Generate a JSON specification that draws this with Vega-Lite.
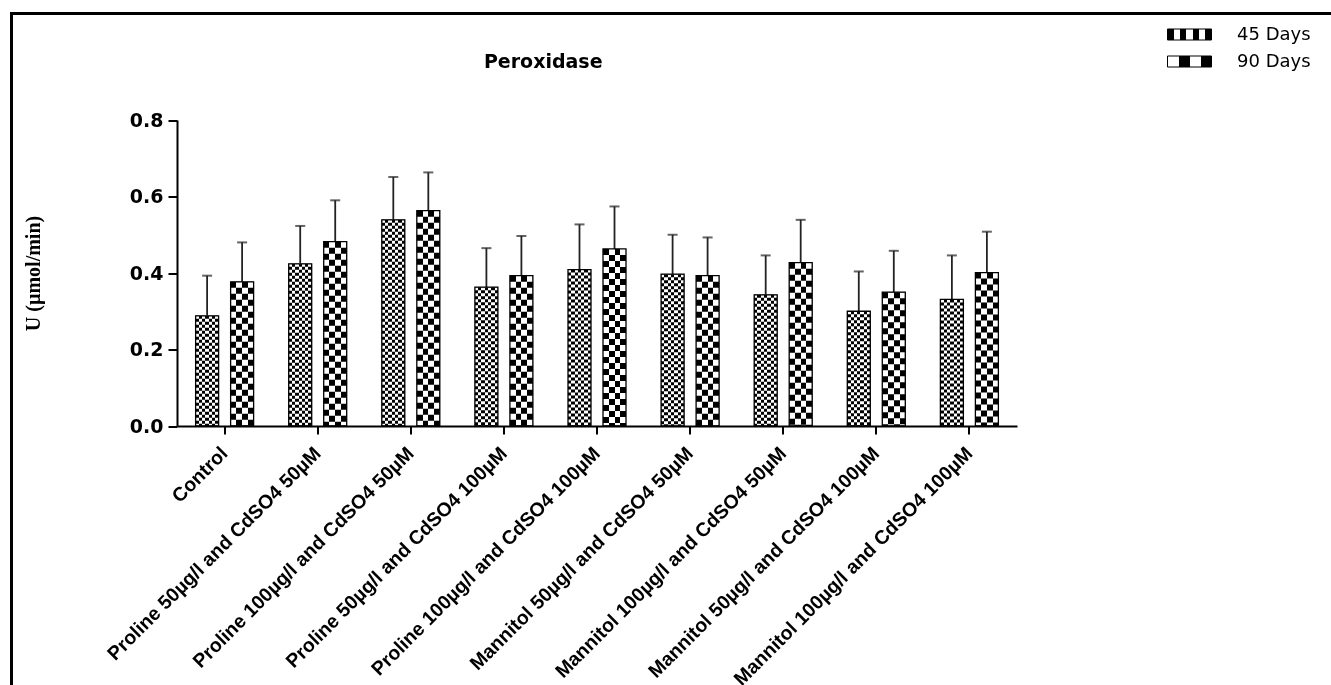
{
  "$schema": "https://vega.github.io/schema/vega-lite/v6.json",
  "width": 1325.5,
  "height": 677.5,
  "autosize": {"type": "none"},
  "padding": {"left": 11.5, "top": 13.5, "right": -6, "bottom": -6},
  "background": "white",
  "title": {
    "text": "Peroxidase",
    "font": "DejaVu Sans",
    "fontSize": 19,
    "fontWeight": "bold",
    "color": "black",
    "anchor": "middle",
    "baseline": "middle",
    "offset": 0,
    "dx": -131,
    "dy": 67.5
  },
  "config": {"view": {"stroke": "black", "strokeWidth": 3}},
  "data": {
    "values": [
      {"treatment": "Control", "period": "45 Days", "mean": 0.288, "sem": 0.105},
      {"treatment": "Control", "period": "90 Days", "mean": 0.377, "sem": 0.103},
      {"treatment": "Proline 50µg/l and CdSO4 50µM", "period": "45 Days", "mean": 0.424, "sem": 0.099},
      {"treatment": "Proline 50µg/l and CdSO4 50µM", "period": "90 Days", "mean": 0.482, "sem": 0.108},
      {"treatment": "Proline 100µg/l and CdSO4 50µM", "period": "45 Days", "mean": 0.539, "sem": 0.112},
      {"treatment": "Proline 100µg/l and CdSO4 50µM", "period": "90 Days", "mean": 0.563, "sem": 0.100},
      {"treatment": "Proline 50µg/l and CdSO4 100µM", "period": "45 Days", "mean": 0.363, "sem": 0.102},
      {"treatment": "Proline 50µg/l and CdSO4 100µM", "period": "90 Days", "mean": 0.393, "sem": 0.104},
      {"treatment": "Proline 100µg/l and CdSO4 100µM", "period": "45 Days", "mean": 0.409, "sem": 0.118},
      {"treatment": "Proline 100µg/l and CdSO4 100µM", "period": "90 Days", "mean": 0.463, "sem": 0.111},
      {"treatment": "Mannitol 50µg/l and CdSO4 50µM", "period": "45 Days", "mean": 0.397, "sem": 0.103},
      {"treatment": "Mannitol 50µg/l and CdSO4 50µM", "period": "90 Days", "mean": 0.393, "sem": 0.100},
      {"treatment": "Mannitol 100µg/l and CdSO4 50µM", "period": "45 Days", "mean": 0.343, "sem": 0.103},
      {"treatment": "Mannitol 100µg/l and CdSO4 50µM", "period": "90 Days", "mean": 0.427, "sem": 0.112},
      {"treatment": "Mannitol 50µg/l and CdSO4 100µM", "period": "45 Days", "mean": 0.300, "sem": 0.104},
      {"treatment": "Mannitol 50µg/l and CdSO4 100µM", "period": "90 Days", "mean": 0.350, "sem": 0.108},
      {"treatment": "Mannitol 100µg/l and CdSO4 100µM", "period": "45 Days", "mean": 0.331, "sem": 0.115},
      {"treatment": "Mannitol 100µg/l and CdSO4 100µM", "period": "90 Days", "mean": 0.401, "sem": 0.107}
    ]
  },
  "encoding": {
    "x": {
      "field": "treatment",
      "type": "nominal",
      "sort": null,
      "scale": {"range": [165.5, 1005.5], "paddingInner": 0.377, "paddingOuter": 0.2},
      "axis": {
        "title": null,
        "offset": -265,
        "zindex": 1,
        "domainColor": "black",
        "domainWidth": 2,
        "tickColor": "black",
        "tickWidth": 2,
        "tickSize": 8,
        "labelAngle": -45,
        "labelAlign": "right",
        "labelBaseline": "middle",
        "labelPadding": 16,
        "labelLimit": 1000,
        "labelOverlap": false,
        "labelFont": "Liberation Sans",
        "labelFontSize": 19.5,
        "labelFontWeight": "bold",
        "labelColor": "black"
      }
    },
    "xOffset": {
      "field": "period",
      "type": "nominal",
      "sort": ["45 Days", "90 Days"],
      "scale": {"paddingInner": 0.343, "paddingOuter": 0}
    }
  },
  "layer": [
    {
      "mark": {
        "type": "errorbar",
        "ticks": {"size": 10, "thickness": 2, "color": "#222222"},
        "rule": {"strokeWidth": 1.8, "color": "#222222"}
      },
      "encoding": {
        "y": {"field": "mean", "type": "quantitative", "title": "U (µmol/min)"},
        "yError": {"field": "sem"}
      }
    },
    {
      "mark": {"type": "bar"},
      "encoding": {
        "y": {
          "field": "mean",
          "type": "quantitative",
          "title": "U (µmol/min)",
          "scale": {"domain": [0, 0.8], "range": [412.5, 106.5], "nice": false},
          "axis": {
            "title": "U (µmol/min)",
            "titleFont": "Liberation Serif",
            "titleFontSize": 20,
            "titleFontWeight": "bold",
            "titleColor": "black",
            "titleAngle": -90,
            "titleAlign": "center",
            "titleBaseline": "middle",
            "titleX": -144,
            "titleY": 259.5,
            "values": [0, 0.2, 0.4, 0.6, 0.8],
            "format": ".1f",
            "grid": false,
            "offset": -165.5,
            "zindex": 1,
            "domainColor": "black",
            "domainWidth": 2,
            "tickColor": "black",
            "tickWidth": 2,
            "tickSize": 9,
            "labelPadding": 5,
            "labelFont": "DejaVu Sans",
            "labelFontSize": 19,
            "labelFontWeight": "bold",
            "labelColor": "black"
          }
        },
        "fill": {
          "field": "period",
          "type": "nominal",
          "scale": {
            "domain": ["45 Days", "90 Days"],
            "range": [
              {"expr": "{gradient: 'linear', x1: 0, y1: 0, x2: 1, y2: 0, stops: [{offset: 0, color: '#000'}, {offset: 0.1429, color: '#000'}, {offset: 0.1429, color: '#fff'}, {offset: 0.2857, color: '#fff'}, {offset: 0.2857, color: '#000'}, {offset: 0.4286, color: '#000'}, {offset: 0.4286, color: '#fff'}, {offset: 0.5714, color: '#fff'}, {offset: 0.5714, color: '#000'}, {offset: 0.7143, color: '#000'}, {offset: 0.7143, color: '#fff'}, {offset: 0.8571, color: '#fff'}, {offset: 0.8571, color: '#000'}, {offset: 1, color: '#000'}]}"},
              {"expr": "{gradient: 'linear', x1: 0, y1: 0, x2: 1, y2: 0, stops: [{offset: 0, color: '#fff'}, {offset: 0.25, color: '#fff'}, {offset: 0.25, color: '#000'}, {offset: 0.5, color: '#000'}, {offset: 0.5, color: '#fff'}, {offset: 0.75, color: '#fff'}, {offset: 0.75, color: '#000'}, {offset: 1, color: '#000'}]}"}
            ]
          },
          "legend": {
            "title": null,
            "orient": "none",
            "legendX": 1166.5,
            "legendY": 9.5,
            "padding": 0,
            "symbolType": "M-2,-0.5H2V0.5H-2Z",
            "symbolSize": 484,
            "symbolStrokeColor": "black",
            "symbolStrokeWidth": 1,
            "labelOffset": 36,
            "rowPadding": 6,
            "labelFont": "DejaVu Sans",
            "labelFontSize": 18,
            "labelColor": "black"
          }
        }
      }
    },
    {
      "transform": [{"filter": "datum.period === '45 Days'"}],
      "mark": {"type": "rule", "stroke": "white", "strokeWidth": 23, "strokeCap": "butt", "strokeDash": [3, 3], "blend": "difference"},
      "encoding": {
        "y": {"field": "mean", "type": "quantitative", "title": "U (µmol/min)"},
        "y2": {"datum": 0}
      }
    },
    {
      "transform": [{"filter": "datum.period === '90 Days'"}],
      "mark": {"type": "rule", "stroke": "white", "strokeWidth": 23, "strokeCap": "butt", "strokeDash": [6, 6], "blend": "difference"},
      "encoding": {
        "y": {"field": "mean", "type": "quantitative", "title": "U (µmol/min)"},
        "y2": {"datum": 0}
      }
    },
    {
      "mark": {"type": "bar", "fill": "transparent", "stroke": "black", "strokeWidth": 1.3},
      "encoding": {
        "y": {"field": "mean", "type": "quantitative", "title": "U (µmol/min)"}
      }
    }
  ]
}
